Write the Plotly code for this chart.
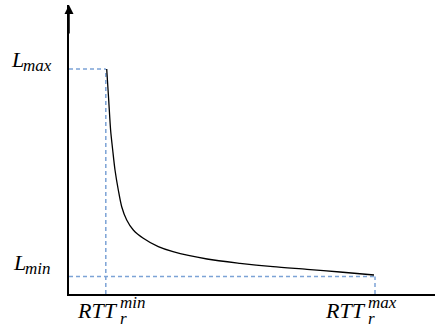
import plotly.graph_objects as go

# Curve data (abstract units: RTT on x, L on y)
rtt = [37.7, 39.7, 41.6, 43.7, 46.0, 49.3, 52.7, 57.7, 64.3, 74.3, 89.3, 104, 138, 171, 204, 238, 271, 305]
lat = [225, 194, 164, 144, 124, 104, 87.3, 74, 64, 55.7, 47.3, 42.3, 35, 30.7, 27.3, 24.7, 22, 19]

L_max = 225
L_min = 17.5
RTT_min = 36.8
RTT_max = 306

X_MAX = 366
Y_MAX = 289

dash_color = "rgb(124,163,214)"
font_family = "Liberation Serif"

fig = go.Figure()

dash_line = dict(color=dash_color, width=1.5, dash="4px,3px")
# guide lines
fig.add_trace(go.Scatter(x=[0, RTT_min], y=[L_max, L_max], mode="lines", line=dash_line, hoverinfo="skip"))
fig.add_trace(go.Scatter(x=[RTT_min, RTT_min], y=[0, L_max], mode="lines", line=dash_line, hoverinfo="skip"))
fig.add_trace(go.Scatter(x=[0, RTT_max], y=[L_min, L_min], mode="lines", line=dash_line, hoverinfo="skip"))
fig.add_trace(go.Scatter(x=[RTT_max, RTT_max], y=[0, L_min], mode="lines", line=dash_line, hoverinfo="skip"))

# curve
fig.add_trace(go.Scatter(x=rtt, y=lat, mode="lines",
                         line=dict(color="black", width=1.3, shape="spline", smoothing=0.8),
                         hoverinfo="skip"))

big = dict(family=font_family, size=22, color="black")
small = dict(family=font_family, size=17, color="black")

annotations = [
    # y-axis arrow
    dict(x=0, y=Y_MAX, ax=0, ay=Y_MAX - 30, xref="x", yref="y", axref="x", ayref="y",
         showarrow=True, arrowhead=2, arrowsize=1.2, arrowwidth=1.5, arrowcolor="black", text=""),
    # L_max
    dict(x=0, y=L_max, xref="x", yref="y", text="<i>L</i>", font=big, showarrow=False,
         xanchor="right", yanchor="middle", xshift=-43, yshift=10),
    dict(x=0, y=L_max, xref="x", yref="y", text="<i>max</i>", font=small, showarrow=False,
         xanchor="left", yanchor="middle", xshift=-48, yshift=4),
    # L_min
    dict(x=0, y=L_min, xref="x", yref="y", text="<i>L</i>", font=big, showarrow=False,
         xanchor="right", yanchor="middle", xshift=-41, yshift=14),
    dict(x=0, y=L_min, xref="x", yref="y", text="<i>min</i>", font=small, showarrow=False,
         xanchor="left", yanchor="middle", xshift=-46, yshift=8),
    # RTT_min
    dict(x=RTT_min, y=0, xref="x", yref="y", text="<i>RTT</i>", font=big, showarrow=False,
         xanchor="left", yanchor="middle", xshift=-31, yshift=-16),
    dict(x=RTT_min, y=0, xref="x", yref="y", text="<i>min</i>", font=small, showarrow=False,
         xanchor="left", yanchor="middle", xshift=12, yshift=-8),
    dict(x=RTT_min, y=0, xref="x", yref="y", text="<i>r</i>", font=small, showarrow=False,
         xanchor="left", yanchor="middle", xshift=12, yshift=-24),
    # RTT_max
    dict(x=RTT_max, y=0, xref="x", yref="y", text="<i>RTT</i>", font=big, showarrow=False,
         xanchor="left", yanchor="middle", xshift=-52, yshift=-16),
    dict(x=RTT_max, y=0, xref="x", yref="y", text="<i>max</i>", font=small, showarrow=False,
         xanchor="left", yanchor="middle", xshift=-9, yshift=-8),
    dict(x=RTT_max, y=0, xref="x", yref="y", text="<i>r</i>", font=small, showarrow=False,
         xanchor="left", yanchor="middle", xshift=-9, yshift=-24),
]

fig.update_layout(
    width=435, height=328,
    margin=dict(l=69, r=0, t=5, b=34),
    paper_bgcolor="white", plot_bgcolor="white",
    showlegend=False,
    annotations=annotations,
    xaxis=dict(range=[0, X_MAX], showgrid=False, zeroline=False, showticklabels=False, ticks="",
               showline=True, linecolor="black", linewidth=1.5),
    yaxis=dict(range=[0, Y_MAX], showgrid=False, zeroline=False, showticklabels=False, ticks="",
               showline=True, linecolor="black", linewidth=1.5),
)

fig.write_html("out.html", config={"displayModeBar": False},
               post_script="document.body.style.margin='0';document.body.style.overflow='hidden';")
